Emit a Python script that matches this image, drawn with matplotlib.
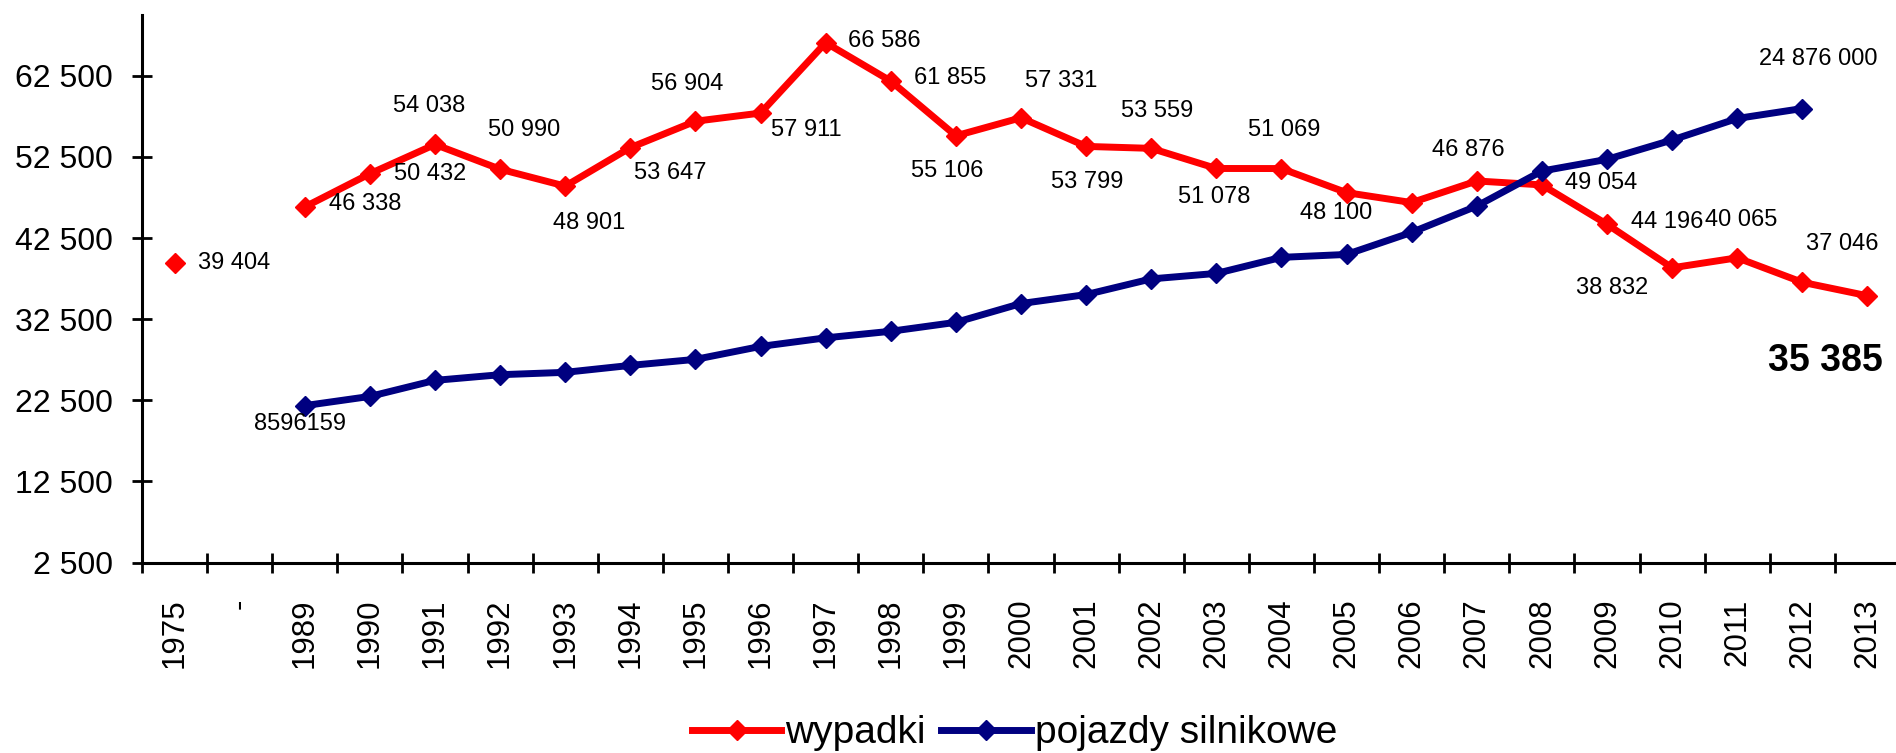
import numpy as np
import matplotlib.pyplot as plt

plt.rcParams['font.family'] = ['Liberation Sans', 'DejaVu Sans']

years = ['1975', '-', '1989', '1990', '1991', '1992', '1993', '1994', '1995',
         '1996', '1997', '1998', '1999', '2000', '2001', '2002', '2003', '2004',
         '2005', '2006', '2007', '2008', '2009', '2010', '2011', '2012', '2013']

# liczba wypadków
wypadki = [39404, np.nan, 46338, 50432, 54038, 50990, 48901, 53647, 56904,
           57911, 66586, 61855, 55106, 57331, 53799, 53559, 51078, 51069,
           48100, 46876, 49536, 49054, 44196, 38832, 40065, 37046, 35385]

# pojazdy silnikowe (only the end points are labelled)
pojazdy = [np.nan, np.nan, 8596159, 9100000, 9980000, 10290000, 10420000,
           10800000, 11130000, 11840000, 12310000, 12670000, 13160000,
           14190000, 14680000, 15540000, 15840000, 16720000, 16880000,
           18090000, 19530000, 21450000, 22090000, 23150000, 24330000,
           24876000, np.nan]

wypadki_labels = ['39 404', '', '46 338', '50 432', '54 038', '50 990', '48 901',
                  '53 647', '56 904', '57 911', '66 586', '61 855', '55 106',
                  '57 331', '53 799', '53 559', '51 078', '51 069', '48 100',
                  '46 876', '', '49 054', '44 196', '38 832', '40 065',
                  '37 046', '35 385']
pojazdy_labels = {'1989': '8596159', '2012': '24 876 000'}

# label offsets in pixels (dx, dy), styling only
red_off = [(60, 0), (0, 0), (60, 3), (60, 0), (-6, 38), (24, 39), (24, -37),
           (40, -25), (-8, 37), (46, -17), (59, 2), (59, 3), (-9, -35),
           (40, 37), (1, -36), (6, 37), (-2, -29), (3, 39), (-10, -20),
           (57, 53), (0, 0), (59, 2), (60, 2), (-60, -20), (4, 38), (40, 38),
           (-42, -65)]
blue_off = {'1989': (-5, -18), '2012': (16, 50)}

RED = '#FF0000'
BLUE = '#000080'

fig = plt.figure(figsize=(18.96, 7.53), dpi=100)
ax = fig.add_axes([142 / 1896, 1 - 562.5 / 753, (1900 - 142) / 1896,
                   (562.5 - 15) / 753])
x = np.arange(len(years))

ax.plot(x, wypadki, color=RED, lw=5, marker='D', ms=10.5, label='wypadki',
        zorder=3)
ax.set_ylim(2500, 70000)
ax.set_xlim(-0.5, len(years) - 0.5)
ax.set_yticks(np.arange(2500, 62501, 10000))
ax.set_yticklabels([f'{int(v):,}'.replace(',', ' ') for v in
                    np.arange(2500, 62501, 10000)], fontsize=23)
ax.set_xticks(x)
ax.set_xticklabels(years, rotation=90, fontsize=22.5)
ax.set_xticks(np.arange(-0.5, len(years)), minor=True)
ax.tick_params(axis='x', which='major', length=0, pad=26)
ax.tick_params(axis='x', which='minor', direction='inout', length=14.5,
               width=2)
ax.tick_params(axis='y', direction='inout', length=14, width=2, pad=14)
for s in ['top', 'right']:
    ax.spines[s].set_visible(False)
for s in ['left', 'bottom']:
    ax.spines[s].set_linewidth(2.2)

for i, txt in enumerate(wypadki_labels):
    if not txt:
        continue
    if i == len(years) - 1:
        ax.annotate(txt, (x[i], wypadki[i]), xytext=red_off[i],
                    textcoords='offset pixels', ha='center', va='center',
                    fontsize=27, fontweight='bold')
    else:
        ax.annotate(txt, (x[i], wypadki[i]), xytext=red_off[i],
                    textcoords='offset pixels', ha='center', va='center',
                    fontsize=17)

ax2 = ax.twinx()
ax2.plot(x, pojazdy, color=BLUE, lw=5, marker='D', ms=10.5,
         label='pojazdy silnikowe', zorder=3)
ax2.set_ylim(0, 30e6)
ax2.set_axis_off()
for yr, txt in pojazdy_labels.items():
    i = years.index(yr)
    ax2.annotate(txt, (x[i], pojazdy[i]), xytext=blue_off[yr],
                 textcoords='offset pixels', ha='center', va='center',
                 fontsize=17)

h1, l1 = ax.get_legend_handles_labels()
h2, l2 = ax2.get_legend_handles_labels()
fig.legend(h1 + h2, l1 + l2, loc='center', bbox_to_anchor=(0.535, 0.026),
           ncol=2, frameon=False, fontsize=28, handlelength=2.3,
           handletextpad=0.1, columnspacing=0.4)

fig.savefig('out.png', dpi=100)
